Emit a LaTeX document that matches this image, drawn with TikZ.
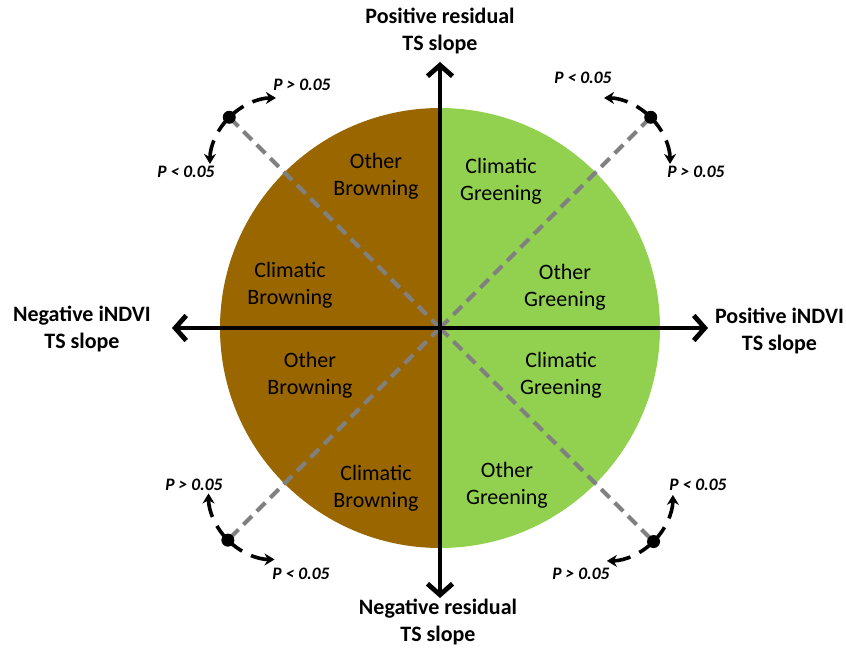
\documentclass[tikz,border=0pt]{standalone}
\usepackage{fontspec}
\setmainfont{Carlito}
\usetikzlibrary{arrows.meta}
\definecolor{brownfill}{RGB}{153,102,0}
\definecolor{greenfill}{RGB}{146,208,80}
\definecolor{dashgray}{RGB}{128,128,128}
\begin{document}
\begin{tikzpicture}[x=1pt,y=1pt,
  axisline/.style={line width=4.8pt, line cap=round, -{Straight Barb[length=11pt,width=25pt]}},
  diagline/.style={draw=dashgray, line width=4pt, dash pattern=on 12pt off 7pt},
  parc/.style={line width=3.6pt, dash pattern=on 18pt off 10pt, -{Stealth[length=10pt,width=12pt]}},
  titletext/.style={font=\bfseries\fontsize{22}{26.5}\selectfont, align=center, inner sep=0pt},
  regiontext/.style={font=\fontsize{22}{27}\selectfont, align=center, inner sep=0pt},
  ptext/.style={font=\bfseries\itshape\fontsize{17.5}{20}\selectfont, inner sep=0pt},
  dotmark/.style={fill=black}
]
\useasboundingbox (-440,-320) rectangle (406,328);
% halves of the disc
\fill[brownfill] (0,220) arc[start angle=90, end angle=270, radius=220] -- cycle;
\fill[greenfill] (0,-220) arc[start angle=-90, end angle=90, radius=220] -- cycle;
% centre and corner points
\coordinate (O) at (0,0);
\coordinate (dTL) at (135:298);
\coordinate (dTR) at (45:298);
\coordinate (dBL) at (225:300);
\coordinate (dBR) at (315:302);
% gray dashed diagonals
\draw[diagline] (O) -- (dTL);
\draw[diagline] (O) -- (dTR);
\draw[diagline] (O) -- (dBL);
\draw[diagline] (O) -- (dBR);
% axes
\coordinate (xl) at (-268,0);
\coordinate (xr) at (268,0);
\coordinate (yt) at (0,266);
\coordinate (yb) at (0,-270);
\draw[axisline] (O) -- (xl);
\draw[axisline] (O) -- (xr);
\draw[axisline] (O) -- (yt);
\draw[axisline] (O) -- (yb);
% dots
\fill[dotmark] (dTL) circle (6.5);
\fill[dotmark] (dTR) circle (6.5);
\fill[dotmark] (dBL) circle (6.5);
\fill[dotmark] (dBR) circle (6.5);
% curved arrows
\draw[parc] (dTL) arc[start angle=135, end angle=90, radius=66];
\draw[parc] (dTL) arc[start angle=135, end angle=180, radius=66];
\draw[parc] (dTR) arc[start angle=45, end angle=90, radius=66];
\draw[parc] (dTR) arc[start angle=45, end angle=0, radius=66];
\draw[parc] (dBL) arc[start angle=225, end angle=180, radius=66];
\draw[parc] (dBL) arc[start angle=225, end angle=270, radius=66];
\draw[parc] (dBR) arc[start angle=315, end angle=360, radius=66];
\draw[parc] (dBR) arc[start angle=315, end angle=270, radius=66];
% axis titles
\node[titletext] (ttop) at (0,297) {Positive residual\\TS slope};
\node[titletext] (tbot) at (-2,-294) {Negative residual\\TS slope};
\node[titletext] (tleft) at (-358,-1) {Negative iNDVI\\TS slope};
\node[titletext] (tright) at (339.5,-3) {Positive iNDVI\\TS slope};
% region labels
\node[regiontext] (r1) at (-64,152) {Other\\Browning};
\node[regiontext] (r2) at (61,147) {Climatic\\Greening};
\node[regiontext] (r3) at (-150,43) {Climatic\\Browning};
\node[regiontext] (r4) at (125,41) {Other\\Greening};
\node[regiontext] (r5) at (-130,-47) {Other\\Browning};
\node[regiontext] (r6) at (121,-47) {Climatic\\Greening};
\node[regiontext] (r7) at (-64,-160) {Climatic\\Browning};
\node[regiontext] (r8) at (67,-157) {Other\\Greening};
% P labels
\node[ptext] (p1) at (-138,243) {P > 0.05};
\node[ptext] (p2) at (-254,156) {P < 0.05};
\node[ptext] (p3) at (143,250) {P < 0.05};
\node[ptext] (p4) at (256,156) {P > 0.05};
\node[ptext] (p5) at (-246,-157) {P > 0.05};
\node[ptext] (p6) at (-139,-246) {P < 0.05};
\node[ptext] (p7) at (258,-157) {P < 0.05};
\node[ptext] (p8) at (141,-246) {P > 0.05};
\end{tikzpicture}
\end{document}
